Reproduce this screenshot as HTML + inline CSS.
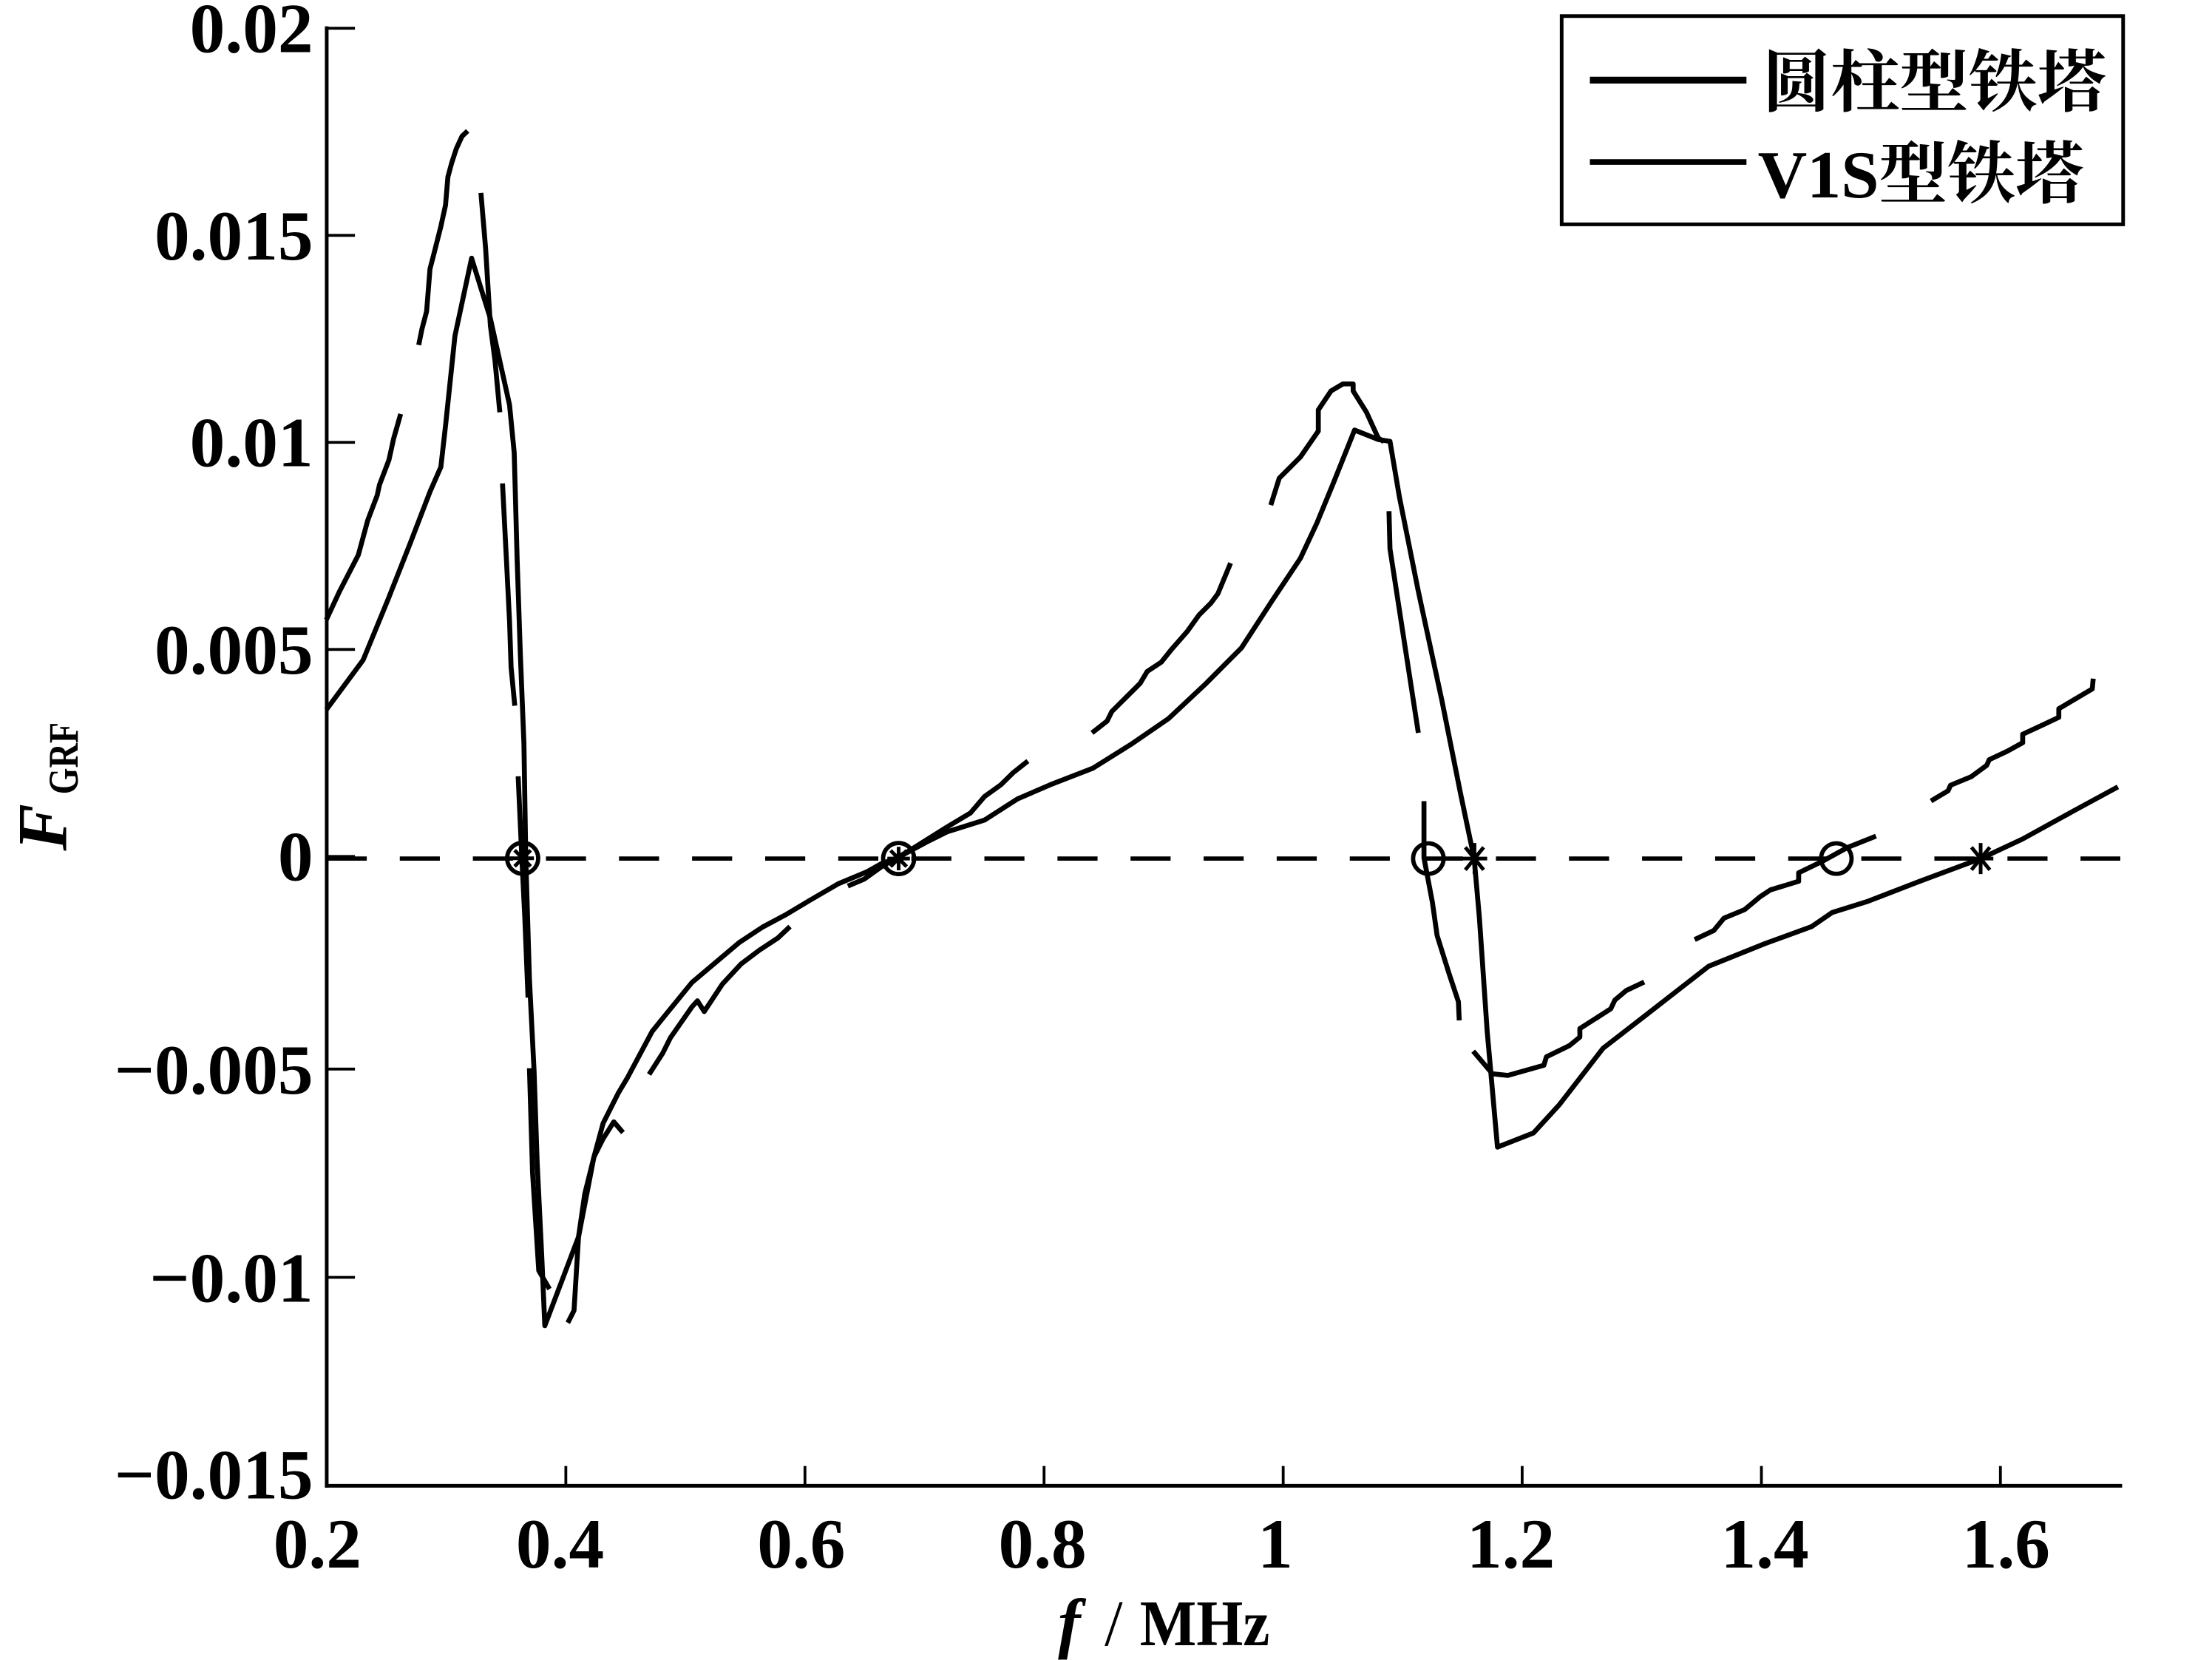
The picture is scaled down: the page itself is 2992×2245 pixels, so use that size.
<!DOCTYPE html>
<html>
<head>
<meta charset="utf-8">
<style>
  html, body { margin: 0; padding: 0; background: #ffffff; }
  svg { display: block; }
  .lab { font-family: "Liberation Serif", "Noto Serif CJK SC", serif; font-weight: bold; fill: #000; }
</style>
</head>
<body>
<svg xmlns="http://www.w3.org/2000/svg" width="2992" height="2245" viewBox="0 0 1568 1176.5" preserveAspectRatio="none">
  <rect x="0" y="0" width="1568" height="1176.5" fill="#ffffff"/>

  <!-- Axes -->
  <g stroke="#000" fill="none" stroke-linecap="square">
    <line x1="231.6" y1="20" x2="231.6" y2="1053" stroke-width="2.6"/>
    <line x1="231.6" y1="1053" x2="1503" y2="1053" stroke-width="2.6"/>
  </g>
  <!-- Y ticks -->
  <g stroke="#000" stroke-width="2">
    <line x1="231.6" y1="20" x2="251.6" y2="20"/>
    <line x1="231.6" y1="166.8" x2="251.6" y2="166.8"/>
    <line x1="231.6" y1="313.5" x2="251.6" y2="313.5"/>
    <line x1="231.6" y1="460.3" x2="251.6" y2="460.3"/>
    <line x1="231.6" y1="607" x2="251.6" y2="607"/>
    <line x1="231.6" y1="757.7" x2="251.6" y2="757.7"/>
    <line x1="231.6" y1="905.3" x2="251.6" y2="905.3"/>
  </g>
  <!-- X ticks -->
  <g stroke="#000" stroke-width="2">
    <line x1="401.1" y1="1053" x2="401.1" y2="1039"/>
    <line x1="570.6" y1="1053" x2="570.6" y2="1039"/>
    <line x1="740.1" y1="1053" x2="740.1" y2="1039"/>
    <line x1="909.6" y1="1053" x2="909.6" y2="1039"/>
    <line x1="1079" y1="1053" x2="1079" y2="1039"/>
    <line x1="1248.6" y1="1053" x2="1248.6" y2="1039"/>
    <line x1="1418" y1="1053" x2="1418" y2="1039"/>
  </g>

  <!-- Y tick labels -->
  <g class="lab" font-size="50" text-anchor="end">
    <text x="222" y="37">0.02</text>
    <text x="222" y="184">0.015</text>
    <text x="222" y="330.5">0.01</text>
    <text x="222" y="477.5">0.005</text>
    <text x="222" y="624">0</text>
    <text x="222" y="775">−0.005</text>
    <text x="222" y="922.5">−0.01</text>
    <text x="222" y="1062">−0.015</text>
  </g>
  <!-- X tick labels -->
  <g class="lab" font-size="50" text-anchor="middle">
    <text x="225" y="1111">0.2</text>
    <text x="397" y="1111">0.4</text>
    <text x="568" y="1111">0.6</text>
    <text x="739" y="1111">0.8</text>
    <text x="904" y="1111">1</text>
    <text x="1071" y="1111">1.2</text>
    <text x="1251" y="1111">1.4</text>
    <text x="1422" y="1111">1.6</text>
  </g>

  <!-- X axis title -->
  <text class="lab" x="750" y="1166" font-size="48" font-style="italic">f</text>
  <text x="783" y="1166" font-size="46" font-family="Liberation Serif, serif" fill="#000">/</text>
  <text class="lab" x="808" y="1166" font-size="46" textLength="92" lengthAdjust="spacingAndGlyphs">MHz</text>

  <!-- Y axis title -->
  <g transform="translate(47,603) rotate(-90)">
    <text class="lab" x="0" y="0" font-size="50" font-style="italic">F</text>
    <text class="lab" x="40" y="8" font-size="30" textLength="51" lengthAdjust="spacingAndGlyphs">GRF</text>
  </g>

  <!-- Zero dashed line -->
  <line x1="231.6" y1="608.5" x2="1503" y2="608.5" stroke="#000" stroke-width="3" stroke-dasharray="28.4 23.4"/>

  <!-- Continuous series -->
  <path fill="none" stroke="#000" stroke-width="3.5" stroke-linejoin="round" d="M231.3,503 L257.4,467.8 L275,425 L290.8,385 L304.8,348.5 L312.5,331 L315.9,301 L322.5,238 L334.3,183 L347.6,225.7 L361.2,287 L364.5,320.9 L366.6,397 L368.8,462.2 L371.4,527.3 L372.7,607.7 L375.3,694.1 L378.6,759.3 L380.8,824.5 L384,889.7 L386.2,939.6 L410.1,876.6 L421,820.1 L427.5,796.2 L438.4,774.5 L444.9,763.6 L462.3,731 L471,720.2 L490.5,696.3 L524,668 L540.5,657.1 L557.5,648 L574.2,638 L594.3,626.3 L614.3,618 L624.4,612.3 L636,608 L657.8,596.3 L671.2,589.6 L697.9,581.2 L721.3,566.2 L744.7,556.1 L774.8,544.4 L801.5,527.7 L828.2,509.4 L855,484.3 L880,459.2 L901.7,425.8 L921.8,395.7 L933.5,370.7 L945.2,342.3 L960.2,304.8 L977,311.5 L985.3,312.8 L992,352.3 L1005.4,419.1 L1022,496 L1035.4,562.8 L1045,608.6 L1048.7,650.7 L1054.2,730.9 L1061.5,813 L1087,803 L1105.3,783 L1136.3,743 L1167.4,718.9 L1211.2,684.8 L1251.3,668.7 L1284.2,656.7 L1298.8,646.7 L1324.3,638.7 L1360.8,624.6 L1403.9,608.6 L1433.8,594.6 L1470.3,574.5 L1501.3,557.7"/>

  <!-- Segmented series -->
  <g fill="none" stroke="#000" stroke-width="3.5" stroke-linejoin="round">
    <path d="M231.3,439.3 L240.6,419.3 L254,393.3 L260.7,368.7 L267.4,351 L269,343.6 L275.7,326 L279,311 L284,293.4"/>
    <path d="M296.8,244.5 L299.1,233.2 L302.4,220.7 L304.8,190.6 L306.8,183 L312.5,160.5 L315.8,145.5 L317.5,125.4 L320.2,115.4 L323.5,105.3 L327.5,96.6 L331.5,92.8"/>
    <path d="M340.9,136.7 L344.2,175.6 L347.6,230.7 L350.9,255.8 L354.3,292.2"/>
    <path d="M356.2,342.6 L359,397 L361.2,440.4 L362.3,473 L364.9,500.2"/>
    <path d="M367.3,550.2 L369.9,607.7 L372,650 L374.3,707"/>
    <path d="M375.3,757.1 L377.5,831 L381.9,900.5 L389.5,913.6"/>
    <path d="M402.5,937.5 L406.9,928.8 L410.1,876.6 L414.5,846.2 L421,820.1 L427.5,807.1 L435.1,795.1 L441.6,802.7"/>
    <path d="M460.1,761.5 L469.9,746.2 L475.3,735.4 L490.5,713.6 L494.4,709.3 L499.2,716.9 L512.2,697.3 L525.3,683.2 L538.3,673.4 L551.4,664.8 L560,656.7"/>
    <path d="M601,628 L612.7,623 L624.4,614.6 L644.4,603 L671.2,586.2 L687.9,576.2 L697.9,564.5 L709.6,556.1 L718,547.8 L728.6,539.4"/>
    <path d="M774.1,519.4 L784.8,511 L788.1,504.3 L808.2,484.3 L813.2,475.9 L823.2,469.3 L829.9,460.9 L841.6,447.5 L850,435.8 L858.3,427.5 L863.3,420.8 L872.3,399.1"/>
    <path d="M900.8,358 L906.8,338.9 L921.8,323.9 L934.5,305.5 L934.5,290.5 L943.5,277.1 L951.9,272.1 L959.2,272.1 L959.2,277.1 L968.6,292.1 L977,310.5 L981,313"/>
    <path d="M984.6,362.3 L985.3,389 L1005.4,519.4"/>
    <path d="M1009.4,567.8 L1009.4,608 L1015.4,639.7 L1018.7,663 L1027.1,689.8 L1033.8,709.9 L1034.4,723.2"/>
    <path d="M1044.3,745 L1057.9,761 L1068.8,762.2 L1094.4,755 L1096.2,749 L1112.6,741 L1119.9,735 L1119.9,729 L1141.8,715 L1144.7,708.8 L1152.8,702 L1165.5,696"/>
    <path d="M1201.3,665.9 L1214.8,659.5 L1222.1,650.7 L1236.7,644.7 L1247.7,635.5 L1255,630.7 L1275,624.6 L1275,618.6 L1291.5,610.6 L1309.7,600.6 L1329.8,592.6"/>
    <path d="M1368.8,567.7 L1380.9,560.5 L1382.7,556.5 L1397.3,550.5 L1408.3,542.4 L1410.1,538.4 L1422.9,532.4 L1433.8,526.4 L1433.8,520.4 L1448.4,513.6 L1459.4,508.4 L1459.4,502.3 L1483.1,488.3 L1483.8,481"/>
  </g>

  <!-- Markers -->
  <g fill="none" stroke="#000" stroke-width="3">
    <circle cx="370.5" cy="608.3" r="11"/>
    <circle cx="637" cy="608.5" r="11"/>
    <circle cx="1012.5" cy="608.5" r="10.8"/>
    <circle cx="1301.7" cy="608.5" r="10.8"/>
  </g>
  <g fill="none" stroke="#000" stroke-width="2.6">
    <path d="M362.5,608.3 H378.5 M370.5,600 V616.6 M364.8,602.6 L376.2,614 M364.8,614 L376.2,602.6"/>
    <path d="M629,608.5 H645 M637,600.2 V616.8 M631.3,602.8 L642.7,614.2 M631.3,614.2 L642.7,602.8"/>
    <path d="M1036.2,608.5 H1054.2 M1045.2,597.5 V619.5 M1038.7,600.5 L1051.7,616.5 M1038.7,616.5 L1051.7,600.5"/>
    <path d="M1395,608.5 H1413 M1404,597.5 V619.5 M1397.5,600.5 L1410.5,616.5 M1397.5,616.5 L1410.5,600.5"/>
  </g>

  <!-- Legend -->
  <rect x="1107" y="11.4" width="398" height="147.6" fill="#ffffff" stroke="#000" stroke-width="2.6"/>
  <line x1="1127" y1="56.8" x2="1238" y2="56.8" stroke="#000" stroke-width="4.8"/>
  <line x1="1127" y1="114.8" x2="1238" y2="114.8" stroke="#000" stroke-width="4"/>
  <text x="1249" y="75" font-size="48" font-weight="bold" font-family="Liberation Serif, Noto Serif CJK SC, serif" textLength="244" lengthAdjust="spacingAndGlyphs" fill="#000">圆柱型铁塔</text>
  <text x="1246" y="140" font-size="48" font-weight="bold" font-family="Liberation Serif, Noto Serif CJK SC, serif" textLength="231" lengthAdjust="spacingAndGlyphs" fill="#000">V1S型铁塔</text>
</svg>
</body>
</html>
